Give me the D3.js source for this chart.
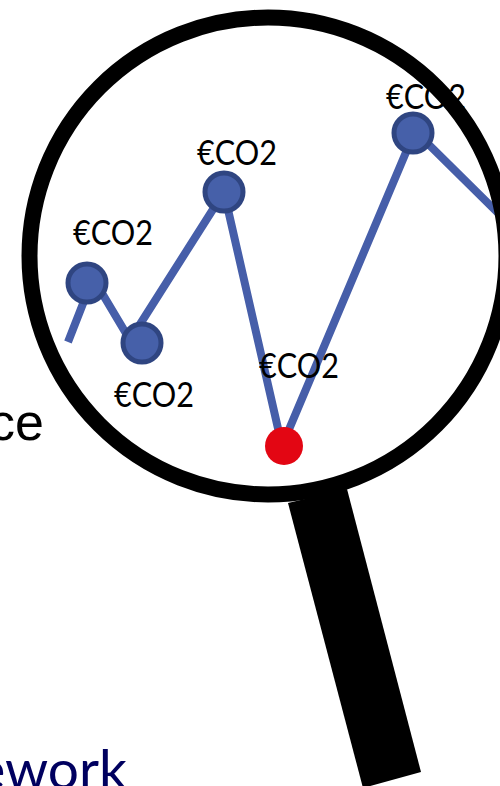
<!DOCTYPE html>
<html lang="en">
<head>
    <title>Magnifier over a carbon price line</title>
    <meta charset="UTF-8">
    <script src="https://d3js.org/d3.v7.min.js"></script>
    <style>
        html, body { margin: 0; padding: 0; background: #fff; overflow: hidden; }
        svg { display: block; }
        .price-label { font-family: Lato, sans-serif; font-size: 34px; fill: #000; }
        .cut-text { font-family: "Liberation Sans", sans-serif; font-size: 52px; fill: #000; }
        .cut-text-blue { font-family: Lato, sans-serif; font-size: 55px; fill: #00005f; }
    </style>
</head>
<body>
<script>
    // values, in the picture's own units
    var linePeriods = [68, 93, 130, 224, 282, 415, 500];
    var linePrices = [444, 508, 446, 594, 340, 655, 571];

    var dotPeriods = [87, 142, 224, 284, 413];
    var dotPrices = [503, 443, 594, 340, 653];
    var dotKinds = ["normal", "normal", "normal", "low", "normal"];
    var dotLabels = ["€CO2", "€CO2", "€CO2", "€CO2", "€CO2"];

    var width = 500, height = 786;

    // label offset from its dot
    var labelOffsets = [[26, -38], [12, 64], [13, -27], [15, -68], [13, -24]];

    var x = d3.scaleLinear().domain([0, 500]).range([0, width]);
    var y = d3.scaleLinear().domain([0, 786]).range([height, 0]);

    var svg = d3.select("body").append("svg")
        .attr("width", width)
        .attr("height", height);

    var linePoints = linePeriods.map(function(p, i) {
        return { period: p, price: linePrices[i] };
    });

    var dots = dotPeriods.map(function(p, i) {
        return { period: p, price: dotPrices[i], kind: dotKinds[i], label: dotLabels[i], offset: labelOffsets[i] };
    });

    // text from the slide behind the magnifier
    svg.append("text").attr("class", "cut-text").attr("x", 44).attr("y", 440).attr("text-anchor", "end").text("ce");
    svg.append("text").attr("class", "cut-text-blue").attr("x", 127).attr("y", 789).attr("text-anchor", "end").text("ework");

    // handle
    svg.append("path")
        .attr("d", "M288,503L347,489L421,772L363,788Z")
        .attr("fill", "#000");

    // price line
    var line = d3.line()
        .x(function(d) { return x(d.period); })
        .y(function(d) { return y(d.price); });

    svg.append("path")
        .datum(linePoints)
        .attr("d", line)
        .attr("fill", "none")
        .attr("stroke", "#465ea9")
        .attr("stroke-width", 8);

    svg.selectAll(".dot")
        .data(dots)
        .enter()
        .append("circle")
        .attr("class", "dot")
        .attr("cx", function(d) { return x(d.period); })
        .attr("cy", function(d) { return y(d.price); })
        .attr("r", 19)
        .attr("fill", function(d) { return d.kind == "low" ? "#e30613" : "#4660a9"; })
        .attr("stroke", function(d) { return d.kind == "low" ? "none" : "#2f4581"; })
        .attr("stroke-width", 5);

    // Lato runs wide at this height, so squeeze it to the reference width
    svg.selectAll(".price-label")
        .data(dots)
        .enter()
        .append("text")
        .attr("class", "price-label")
        .attr("x", function(d) { return x(d.period) + d.offset[0]; })
        .attr("y", function(d) { return y(d.price) + d.offset[1]; })
        .attr("text-anchor", "middle")
        .attr("textLength", 80)
        .attr("lengthAdjust", "spacingAndGlyphs")
        .text(function(d) { return d.label; });

    // lens ring goes over the line and the labels
    svg.append("circle")
        .attr("cx", 268)
        .attr("cy", 256)
        .attr("r", 238.5)
        .attr("fill", "none")
        .attr("stroke", "#000")
        .attr("stroke-width", 16);
</script>
</body>
</html>
